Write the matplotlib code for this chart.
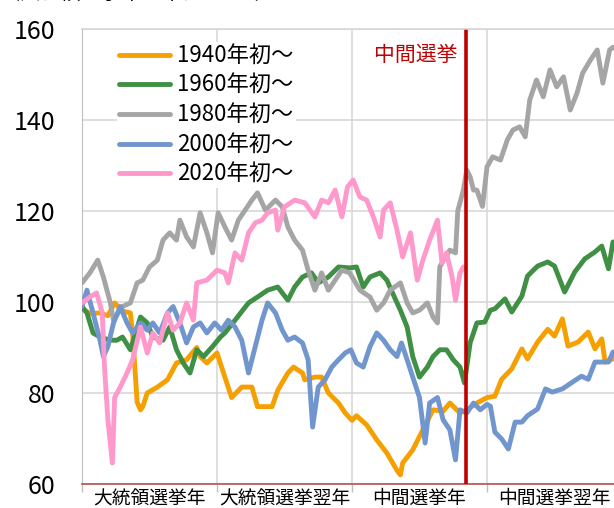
import matplotlib
matplotlib.use("Agg")
import matplotlib.pyplot as plt

plt.rcParams['font.family'] = ['Noto Sans CJK JP', 'DejaVu Sans']

# months since start of presidential election year
t1940 = [0, 0.7, 1.6, 2.3, 2.9, 3.6, 4.3, 4.5, 4.9, 5.2, 5.4, 5.8, 6.7, 7.6, 8.4, 9.3, 10.2, 10.5, 11.1, 12.0,
         12.7, 13.3, 14.2, 15.1, 15.6, 16.9, 17.4, 18.3, 18.8, 19.6, 19.8, 20.7, 21.3, 21.9, 22.8, 23.4, 24.0,
         24.4, 25.3, 26.2, 27.1, 28.0, 28.3, 28.5, 29.4, 30.3, 31.2, 32.1, 32.7, 33.6, 34.2, 35.1, 36.0, 36.7,
         37.3, 38.2, 39.1, 39.6, 40.5, 41.4, 42.0, 42.7, 43.2, 44.1, 45.0, 45.6, 46.2, 46.5, 47.2, 48.0]
v1940 = [98.5, 97.5, 97.6, 97.0, 99.8, 98.0, 97.6, 93.0, 78.0, 76.3, 77.0, 80.0, 81.3, 82.9, 86.6, 87.3, 90.0, 88.0, 86.6, 88.8,
         83.5, 79.0, 81.3, 81.3, 77.0, 77.0, 80.6, 84.4, 85.7, 84.4, 82.9, 83.5, 83.5, 80.0, 77.8, 75.6, 74.0,
         75.0, 73.0, 69.7, 66.8, 63.0, 62.0, 64.6, 67.5, 71.9, 76.3, 76.0, 77.8, 75.6, 76.3, 77.8, 79.0, 79.3,
         83.0, 85.3, 89.7, 87.5, 91.2, 94.0, 92.5, 96.3, 90.3, 91.2, 93.4, 89.7, 91.9, 86.8, 87.5, 89.0]

t1960 = [0, 0.44, 0.98, 1.6, 2.5, 3.1, 3.6, 4.3, 5.2, 5.8, 6.3, 7.2, 7.8, 8.4, 9.0, 9.6, 10.2, 10.8, 11.6, 12.3,
         12.7, 13.6, 14.8, 15.6, 16.5, 17.4, 18.3, 18.9, 19.6, 20.4, 21.0, 21.9, 22.8, 23.8, 24.4, 25.0, 25.6,
         26.5, 27.1, 27.6, 28.3, 28.9, 29.4, 30.0, 30.7, 31.2, 31.8, 32.4, 33.0, 33.6, 34.0, 34.5, 35.1, 35.8,
         36.3, 36.7, 37.6, 38.2, 39.1, 39.6, 40.5, 41.4, 42.0, 42.9, 43.8, 44.7, 45.6, 46.2, 46.8, 47.2, 48.0]
v1960 = [99.0, 97.6, 93.2, 92.3, 91.6, 91.6, 92.3, 89.5, 96.7, 95.4, 92.3, 91.6, 94.5, 89.5, 86.6, 84.4, 89.5, 88.0, 90.2, 92.3,
         93.2, 96.0, 99.8, 101.1, 102.6, 103.3, 100.4, 103.3, 105.5, 106.4, 104.2, 105.5, 107.7, 107.5, 107.7, 103.3, 105.5,
         106.4, 104.8, 102.0, 98.2, 94.5, 88.0, 83.5, 85.7, 88.0, 89.5, 89.5, 87.3, 85.7, 82.2, 91.0, 95.4, 95.6,
         98.2, 98.5, 100.7, 97.8, 101.3, 105.7, 107.9, 108.8, 107.9, 102.2, 106.6, 109.5, 111.0, 112.3, 107.3, 113.2, 112.0]

t1980 = [0, 0.7, 1.4, 1.9, 2.5, 2.8, 3.6, 4.3, 4.9, 5.4, 6.0, 6.7, 7.2, 7.8, 8.4, 8.7, 9.3, 9.9, 10.5, 11.1,
         11.6, 12.1, 12.7, 13.3, 13.9, 14.5, 15.1, 15.6, 16.3, 17.2, 17.8, 18.3, 18.9, 19.6, 20.1, 20.7, 21.3,
         21.9, 22.5, 23.1, 23.8, 24.7, 25.6, 26.2, 26.8, 27.4, 28.3, 28.9, 29.4, 30.0, 30.7, 31.2, 31.6, 31.8,
         32.3, 32.7, 33.2, 33.4, 33.9, 34.2, 34.5, 34.8, 35.1, 35.6, 36.0, 36.5, 37.2, 37.8, 38.3, 38.9, 39.4,
         39.8, 40.4, 41.0, 41.6, 42.2, 42.8, 43.4, 44.0, 44.5, 45.2, 45.8, 46.3, 46.9, 47.2, 48.0]
v1980 = [104.2, 106.4, 109.2, 105.5, 100.0, 96.0, 99.0, 99.8, 104.2, 104.8, 107.7, 109.2, 113.6, 115.2, 113.6, 118.0, 114.3, 112.1, 119.6, 115.2,
         110.8, 119.6, 116.5, 113.6, 118.0, 120.2, 122.4, 124.0, 120.2, 122.4, 120.9, 116.5, 113.6, 111.4, 107.0, 102.6, 106.4,
         102.6, 104.8, 107.0, 106.4, 102.6, 101.1, 98.2, 99.8, 102.6, 104.2, 99.8, 97.6, 98.2, 99.8, 96.7, 95.4, 107.7,
         109.9, 111.4, 110.8, 120.0, 124.6, 129.0, 127.5, 124.6, 124.6, 121.0, 129.7, 131.9, 131.2, 135.6, 137.8, 138.5, 136.3,
         144.4, 148.8, 145.1, 151.0, 147.3, 149.5, 142.2, 145.9, 150.3, 153.2, 155.4, 148.1, 155.4, 156.0, 155.0]

t2000 = [0, 0.44, 0.98, 1.6, 1.9, 2.3, 2.8, 3.4, 4.0, 4.5, 5.2, 5.8, 6.3, 6.9, 7.6, 8.1, 8.7, 9.3, 9.9, 10.5,
         11.1, 11.8, 12.4, 13.0, 13.6, 14.2, 14.8, 15.4, 16.0, 16.5, 17.2, 17.8, 18.3, 18.9, 19.6, 20.1, 20.5,
         21.0, 21.6, 22.2, 22.8, 23.4, 23.9, 24.4, 25.0, 25.6, 26.2, 26.8, 27.4, 28.0, 28.4, 28.9, 29.4, 30.0,
         30.5, 30.9, 31.6, 32.1, 32.7, 33.2, 33.6, 34.2, 34.8, 35.4, 36.0, 36.3, 36.7, 37.3, 37.9, 38.5, 39.1,
         39.6, 40.5, 41.2, 41.8, 42.7, 43.6, 44.4, 45.0, 45.6, 46.2, 46.8, 47.2, 48.0]
v2000 = [99.0, 102.6, 97.6, 91.6, 88.0, 90.2, 95.4, 99.0, 95.4, 93.2, 95.4, 93.8, 95.4, 93.2, 97.6, 99.0, 95.4, 91.0, 94.5, 95.4,
         93.2, 95.4, 93.8, 96.0, 94.5, 91.6, 84.4, 90.2, 96.0, 99.8, 97.6, 93.8, 91.6, 92.3, 91.0, 87.3, 72.5,
         81.3, 82.9, 85.7, 87.3, 88.8, 89.5, 86.6, 85.7, 90.2, 93.2, 91.6, 89.5, 88.0, 91.0, 87.3, 83.5, 79.0,
         69.0, 77.8, 79.0, 74.1, 71.9, 65.3, 76.3, 75.6, 77.8, 76.3, 77.5, 77.1, 71.4, 69.9, 67.7, 73.6, 73.6,
         75.0, 76.5, 80.9, 80.2, 80.9, 82.4, 83.7, 83.0, 86.8, 86.8, 86.8, 89.0, 88.0]

t2020 = [0, 0.7, 1.3, 1.8, 2.0, 2.3, 2.7, 2.9, 3.4, 4.0, 4.5, 5.2, 5.8, 6.3, 6.9, 7.6, 8.1, 8.7, 9.3, 9.9,
         10.2, 11.1, 12.0, 12.7, 13.0, 13.6, 14.2, 14.8, 15.4, 16.0, 16.5, 17.2, 17.4, 18.0, 18.9, 19.8, 20.7,
         21.3, 21.9, 22.5, 23.1, 23.6, 24.1, 24.7, 25.3, 25.9, 26.5, 26.8, 27.4, 28.0, 28.5, 29.2, 29.8, 30.3,
         30.9, 31.6, 32.0, 32.4, 32.9, 33.2, 33.6, 33.9]
v2020 = [99.8, 101.1, 102.0, 97.6, 85.7, 74.1, 64.6, 79.0, 81.3, 84.4, 87.3, 94.5, 88.8, 93.2, 91.0, 97.6, 93.8, 95.4, 99.8, 96.0,
         104.2, 104.8, 107.0, 106.4, 104.2, 110.8, 109.2, 115.2, 117.4, 118.0, 119.6, 120.2, 115.8, 120.9, 122.4, 121.8, 118.7,
         122.4, 121.8, 124.6, 118.7, 125.3, 126.8, 123.1, 122.4, 118.7, 114.3, 120.2, 121.8, 115.8, 109.9, 115.2, 104.8, 109.2,
         113.6, 118.0, 108.6, 110.8, 105.5, 100.4, 106.4, 107.7]

series_labels = ['1940年初～', '1960年初～', '1980年初～', '2000年初～', '2020年初～']
series_colors = ['#f5a000', '#3f8f45', '#a5a5a5', '#7195cd', '#ff99cc']
year_labels = ['大統領選挙年', '大統領選挙翌年', '中間選挙年', '中間選挙翌年']
midterm_month = 34.1
midterm_label = '中間選挙'
title = '（大統領選挙年の年初＝100）'

W, H = 614, 508
fig = plt.figure(figsize=(W / 100, H / 100), dpi=100)
ax = fig.add_axes([82 / W, (H - 484) / H, 540 / W, 455 / H])

data = [(t1940, v1940), (t1960, v1960), (t1980, v1980), (t2000, v2000), (t2020, v2020)]
for (t, v), lab, col in zip(data, series_labels, series_colors):
    ax.plot(t, v, color=col, lw=3.5, label=lab, solid_joinstyle='round', solid_capstyle='round', zorder=3)

ax.axvline(midterm_month, color='#c00000', lw=2.6, zorder=4)
ax.text(33.4, 154.3, midterm_label, color='#c00000', fontsize=15, ha='right', va='center')

ax.set_xlim(0, 48)
ax.set_ylim(60, 160)
ax.set_xticks([0, 12, 24, 36, 48])
ax.set_xticklabels([])
ax.set_xticks([6, 18, 30, 42], minor=True)
ax.set_xticklabels(year_labels, minor=True, fontsize=13.5)
ax.tick_params(axis='x', which='major', length=6, width=1, color='#bfbfbf', direction='out')
ax.tick_params(axis='x', which='minor', length=0, pad=3)
ax.set_yticks([60, 80, 100, 120, 140, 160])
ax.tick_params(axis='y', length=0, pad=19, labelsize=18)
ax.grid(True, which='major', color='#d4d4d4', lw=1.1)
ax.set_axisbelow(True)
ax.spines['right'].set_visible(False)
ax.spines['top'].set_color('#d4d4d4')
ax.spines['top'].set_linewidth(1.1)
ax.spines['top'].set_zorder(10)
ax.spines['left'].set_color('#bfbfbf')
ax.spines['bottom'].set_color('#b5524f')
ax.spines['bottom'].set_linewidth(1.2)

leg = ax.legend(loc='upper left', bbox_to_anchor=(24 / 540, 1 - 2 / 455), fontsize=16,
                frameon=True, fancybox=False, framealpha=1, facecolor='white', edgecolor='none',
                handlelength=2.3, handletextpad=0.3, labelspacing=0.3, borderpad=0.1)
for line in leg.get_lines():
    line.set_linewidth(3.5)

fig.text(0.0, 1 - 4 / H, title, fontsize=14.5, ha='left', va='bottom')

fig.savefig('out.png', dpi=100)
